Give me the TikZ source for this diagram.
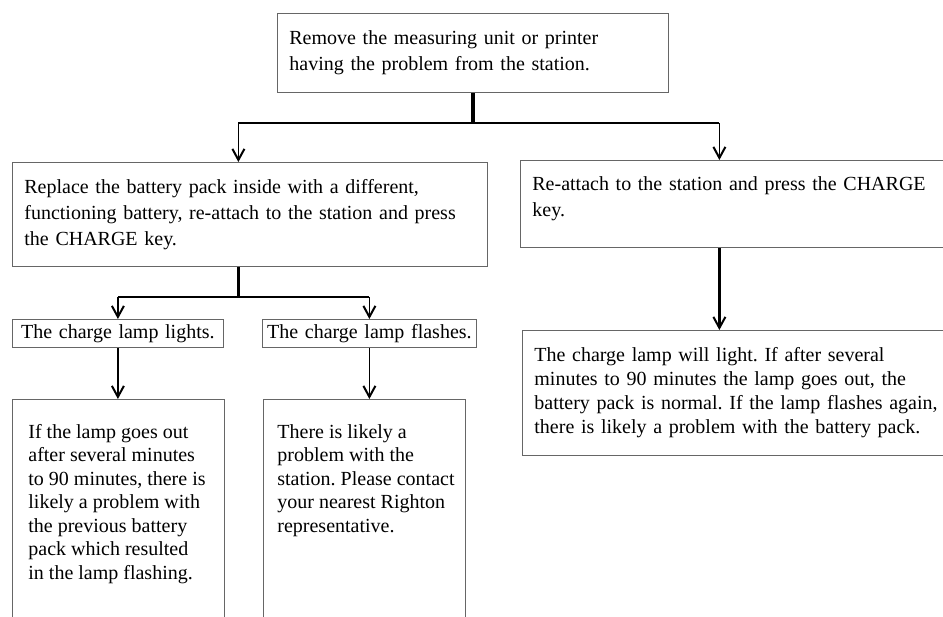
\documentclass[tikz,border=0pt]{standalone}
\usepackage{fontspec}
\setmainfont{Liberation Serif}
\usetikzlibrary{arrows.meta}
\frenchspacing

\tikzset{
  box/.style={draw=black!60, line width=0.8pt, align=left, anchor=north west,
    inner xsep=12pt, inner ysep=0pt, font=\fontsize{20}{26}\selectfont},
  lowbox/.style={box, font=\fontsize{20}{24}\selectfont},
  tallbox/.style={box, font=\fontsize{20}{23.5}\selectfont, inner ysep=25pt},
  flow/.style={line width=1.6pt},
  stem/.style={line width=3.2pt},
  arr/.style={line width=1.8pt, -{Straight Barb[length=11pt,width=12pt,line width=2pt]}},
  stemarr/.style={line width=2.8pt, -{Straight Barb[length=11pt,width=12pt,line width=2pt]}},
}

\begin{document}
\begin{tikzpicture}[x=1pt,y=-1pt]
  \useasboundingbox (0,0) rectangle (943,617);
  \clip (0,0) rectangle (943,617);

  % first step
  \node[box, text width=367pt, minimum height=79pt] (remove) at (277,13)
    {Remove the measuring unit or printer\\having the problem from the station.};

  % the two ways
  \node[box, text width=451pt, minimum height=104pt] (replace) at (12,162)
    {Replace the battery pack inside with a different,\\functioning battery, re-attach to the station and press\\the CHARGE key.};
  \node[box, text width=416pt, minimum height=87pt, text depth=41pt] (reattach) at (520,160)
    {Re-attach to the station and press the CHARGE\\key.};

  % what the lamp does
  \node[box, align=center, inner xsep=4pt, text width=203pt, minimum height=28pt] (lit) at (12,319)
    {The charge lamp lights.};
  \node[box, align=center, inner xsep=4pt, text width=206pt, minimum height=28pt] (flash) at (262,319)
    {The charge lamp flashes.};

  % results
  \node[tallbox, inner xsep=16pt] (litnote) at (12,399)
    {\parbox[t][250pt][t]{180pt}{\raggedright If the lamp goes out\\after several minutes\\to 90 minutes, there is\\likely a problem with\\the previous battery\\pack which resulted\\in the lamp flashing.}};
  \node[tallbox, inner xsep=14pt] (flashnote) at (263,399)
    {\parbox[t][250pt][t]{174pt}{\raggedright There is likely a\\problem with the\\\mbox{station. Please contact}\\your nearest Righton\\representative.}};
  \node[lowbox, text width=416pt, minimum height=125pt] (result) at (522,330)
    {The charge lamp will light. If after several\\minutes to 90 minutes the lamp goes out, the\\battery pack is normal. If the lamp flashes again,\\there is likely a problem with the battery pack.};

  % connectors from the first step
  \coordinate (forkA) at ([yshift=-30pt]remove.south);
  \coordinate (inA) at ([xshift=-11.5pt]replace.north);
  \coordinate (inB) at ([xshift=-21pt]reattach.north);
  \draw[stem] (remove.south) -- (forkA);
  \draw[flow] (inA |- forkA) -- (inB |- forkA);
  \draw[arr] (inA |- forkA) -- (inA);
  \draw[arr] (inB |- forkA) -- (inB);

  % connectors from the replace box
  \coordinate (outA) at ([xshift=-11.5pt]replace.south);
  \coordinate (forkB) at ([yshift=-30pt]outA);
  \draw[stem] (outA) -- (forkB);
  \draw[flow] (lit.north |- forkB) -- (flash.north |- forkB);
  \draw[arr] (lit.north |- forkB) -- (lit.north);
  \draw[arr] (flash.north |- forkB) -- (flash.north);
  \draw[arr] (lit.south) -- (lit.south |- litnote.north);
  \draw[arr] (flash.south) -- (flash.south |- flashnote.north);

  % connector from the reattach box
  \draw[stemarr] (inB |- reattach.south) -- (inB |- result.north);
\end{tikzpicture}
\end{document}
